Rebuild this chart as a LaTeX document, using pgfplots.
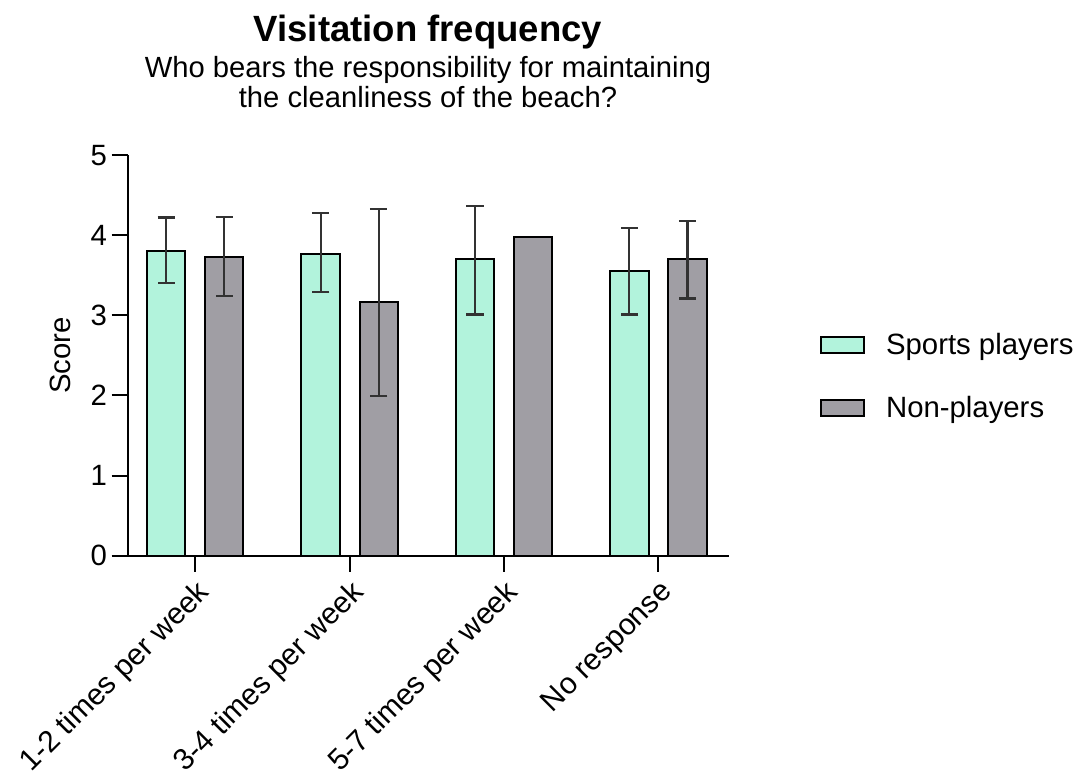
\documentclass[border=0pt]{standalone}
\usepackage{pgfplots}
\pgfplotsset{compat=1.18}
\usepackage{pgfplotstable}
\usepackage{fontspec}
\setmainfont{Liberation Sans}
\definecolor{mint}{RGB}{178,243,220}
\definecolor{graybar}{RGB}{160,158,164}
\definecolor{errc}{RGB}{50,50,50}

\pgfplotstableread{
x xs xn s sp sm n np nm
0 -0.188 0.188 3.80 0.42 0.40 3.73 0.50 0.49
1 0.812 1.188 3.77 0.51 0.48 3.17 1.16 1.18
2 1.812 2.188 3.70 0.66 0.69 3.98 nan nan
3 2.812 3.188 3.55 0.54 0.54 3.70 0.48 0.49
}\datatable

\begin{document}
\begin{tikzpicture}
\begin{axis}[
  at={(0,0)}, anchor=south west,
  width=451pt, height=300.5pt, scale only axis,
  xmin=-0.437, xmax=3.457, ymin=0, ymax=5,
  axis lines*=left,
  axis line style={line width=1.5pt, black},
  xtick={0,1,2,3},
  xticklabels={1-2 times per week, 3-4 times per week, 5-7 times per week, No response},
  ytick={0,1,2,3,4,5},
  tick align=outside,
  major tick length=12pt,
  tick style={line width=1.5pt, black},
  x tick label style={rotate=45, anchor=north east, font=\fontsize{22.5}{26}\selectfont},
  y tick label style={font=\fontsize{22}{26}\selectfont},
  /pgf/number format/assume math mode=true,
  ylabel={Score},
  ylabel style={font=\fontsize{22}{26}\selectfont, at={(rel axis cs:-0.112,0.5)}, anchor=center},
  legend style={at={(1.151,0.447)}, anchor=west, draw=none, fill=none,
    font=\fontsize{22}{26}\selectfont, row sep=26pt, inner sep=0pt},
  legend cell align=left,
  mylegend/.style={legend image code/.code={\draw[##1, line width=1.5pt] (0pt,-6pt) rectangle (32pt,6pt);}},
  errplot/.style={draw=none, mark=none, forget plot,
    error bars/.cd, y dir=both, y explicit,
    error bar style={draw=errc, line width=1.6pt, solid},
    error mark options={rotate=90, draw=errc, line width=1.6pt, mark size=6.5pt}},
]
\addplot[ybar, bar width=0.248, bar shift=-0.188, fill=mint, draw=black, line width=1.5pt, mylegend]
  table[x=x, y=s]{\datatable};
\addlegendentry{\hspace{14pt}Sports players}
\addplot[ybar, bar width=0.248, bar shift=0.188, fill=graybar, draw=black, line width=1.5pt, mylegend]
  table[x=x, y=n]{\datatable};
\addlegendentry{\hspace{14pt}Non-players}
\addplot[errplot] table[x=xs, y=s, y error plus=sp, y error minus=sm]{\datatable};
\addplot[errplot] table[x=xn, y=n, y error plus=np, y error minus=nm]{\datatable};
\end{axis}
\node[anchor=base, font=\fontsize{27.4}{32}\selectfont\bfseries] at (225.2pt,385.3pt) {Visitation frequency};
\node[anchor=base, font=\fontsize{21.9}{26}\selectfont] at (225.2pt,358.3pt) {Who bears the responsibility for maintaining};
\node[anchor=base, font=\fontsize{21.9}{26}\selectfont] at (225.2pt,336.5pt) {the cleanliness of the beach?};
\path (-95.8pt,-165.2pt) rectangle (716.5pt,416.8pt);
\end{tikzpicture}
\end{document}
